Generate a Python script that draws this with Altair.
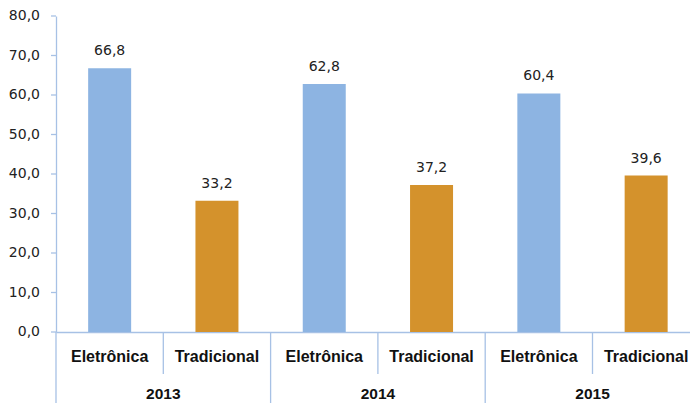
import altair as alt
import pandas as pd

years = ["2013", "2014", "2015"]
tipos = ["Eletrônica", "Tradicional"]
eletronica = [66.8, 62.8, 60.4]
tradicional = [33.2, 37.2, 39.6]
y_ticks = [0, 10, 20, 30, 40, 50, 60, 70, 80]
colors = {"Eletrônica": "#8DB4E2", "Tradicional": "#D4922C"}


def br(v):
    return f"{v:.1f}".replace(".", ",")


rows = []
for yi, yr in enumerate(years):
    for ti, (tipo, vals) in enumerate(zip(tipos, [eletronica, tradicional])):
        v = vals[yi]
        rows.append({"ano": yr, "tipo": tipo, "valor": v,
                     "pos": 2 * yi + ti + 0.5, "rotulo": br(v)})
df = pd.DataFrame(rows)

ticks_df = pd.DataFrame({"valor": y_ticks, "rotulo": [br(t) for t in y_ticks]})

sep = pd.DataFrame({"pos": list(range(0, 7))})
sep["longo"] = sep["pos"] % 2 == 0
yr_df = pd.DataFrame({"ano": years, "pos": [2 * i + 1 for i in range(len(years))]})

W, H = 634, 316
BOTTOM = 71
BAND = 107.3  # px per category; the right end of the last band is cropped
axis_color = "#A7C1E5"

xscale = alt.Scale(domain=[0, W / BAND], nice=False, zero=False, padding=0)
yscale = alt.Scale(domain=[0, 80], nice=False, padding=0)
yaxis = alt.Axis(labels=False, ticks=False, title=None, grid=False,
                 domainColor=axis_color, domainWidth=1.3)
xaxis = alt.Axis(labels=False, ticks=False, title=None, grid=False,
                 domainColor=axis_color, domainWidth=1.3)

bars = alt.Chart(df).mark_bar(size=43).encode(
    x=alt.X("pos:Q", scale=xscale, axis=xaxis),
    y=alt.Y("valor:Q", scale=yscale, axis=yaxis),
    color=alt.Color("tipo:N", scale=alt.Scale(domain=list(colors), range=list(colors.values())),
                    legend=None),
)

vals = alt.Chart(df).mark_text(baseline="bottom", dy=-10, font="DejaVu Sans",
                               fontSize=14, color="#222222").encode(
    x=alt.X("pos:Q", scale=xscale, axis=xaxis),
    y=alt.Y("valor:Q", scale=yscale, axis=yaxis),
    text="rotulo:N",
)

ytick_marks = alt.Chart(ticks_df).mark_rule(color=axis_color, strokeWidth=1.3).encode(
    y=alt.Y("valor:Q", scale=yscale, axis=yaxis),
    x=alt.value(-5),
    x2=alt.value(0),
)
ytick_labels = alt.Chart(ticks_df).mark_text(align="right", baseline="middle",
                                             font="DejaVu Sans", fontSize=14,
                                             color="#222222").encode(
    y=alt.Y("valor:Q", scale=yscale, axis=yaxis),
    x=alt.value(-16),
    text="rotulo:N",
)

short = alt.Chart(sep[~sep["longo"]]).mark_rule(color=axis_color, strokeWidth=1.3).encode(
    x=alt.X("pos:Q", scale=xscale, axis=xaxis),
    y=alt.value(H),
    y2=alt.value(H + 42),
)
long_ = alt.Chart(sep[sep["longo"]]).mark_rule(color=axis_color, strokeWidth=1.3).encode(
    x=alt.X("pos:Q", scale=xscale, axis=xaxis),
    y=alt.value(H),
    y2=alt.value(H + BOTTOM),
)

cat_labels = alt.Chart(df).mark_text(font="Liberation Sans", fontWeight="bold",
                                     fontSize=16, color="#111111", baseline="middle").encode(
    x=alt.X("pos:Q", scale=xscale, axis=xaxis),
    y=alt.value(H + 25),
    text="tipo:N",
)
yr_labels = alt.Chart(yr_df).mark_text(font="Liberation Sans", fontWeight="bold",
                                       fontSize=15.5, color="#111111", baseline="middle").encode(
    x=alt.X("pos:Q", scale=xscale, axis=xaxis),
    y=alt.value(H + 62),
    text="ano:N",
)

chart = alt.layer(bars, vals, ytick_marks, ytick_labels, short, long_,
                  cat_labels, yr_labels).properties(
    width=W, height=H,
    autosize=alt.AutoSizeParams(type="none"),
    padding={"left": 48, "top": 8, "right": 0, "bottom": BOTTOM},
).configure_view(stroke=None)

chart.save("out.html", embed_options={"renderer": "svg", "actions": False})
